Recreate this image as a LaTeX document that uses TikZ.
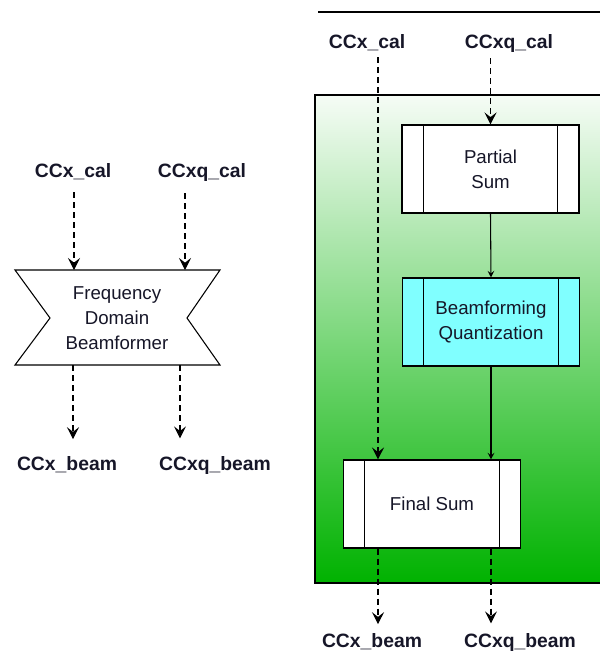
\documentclass[tikz,border=0pt]{standalone}
\usepackage{fontspec}
\setmainfont{Liberation Sans}
\usetikzlibrary{arrows.meta,calc}
\definecolor{cyanfill}{RGB}{128,255,255}
\definecolor{gtop}{RGB}{246,252,246}
\definecolor{gbot}{RGB}{0,178,0}
\definecolor{txt}{RGB}{22,22,40}
\begin{document}
\begin{tikzpicture}[x=0.75pt,y=-0.75pt,
 lab/.style={font=\fontsize{14.5}{17}\selectfont\bfseries, inner sep=0pt, text=txt},
 body/.style={font=\fontsize{14}{19}\selectfont, text=txt, align=center},
 proc/.style={draw, line width=0.8pt, fill=white, minimum width=132.75pt, minimum height=66pt,
   align=center, font=\fontsize{14}{19}\selectfont, text=txt, inner sep=0pt,
   path picture={\draw[line width=0.8pt]
     ([xshift=16pt]path picture bounding box.north west) -- ([xshift=16pt]path picture bounding box.south west)
     ([xshift=-16pt]path picture bounding box.north east) -- ([xshift=-16pt]path picture bounding box.south east);}},
 dasharrow/.style={dash pattern=on 4.5pt off 3pt, line width=0.8pt, -{Stealth[length=9pt,width=9pt,inset=3.5pt]}},
 solidarrow/.style={line width=0.8pt, -{Stealth[length=5pt,width=5pt,inset=2pt]}}]
\useasboundingbox (0,0) rectangle (600,672);
\clip (0,0) rectangle (600,672);

% ---------- left part ----------
\draw[line width=0.8pt, fill=white] (15,270) -- (220,270) -- (187,318) -- (220,365) -- (15,365) -- (50,318) -- cycle;
\node[body] (fdb) at (117,318) {Frequency\\Domain\\Beamformer};
\coordinate (fdbi1) at (74,270);
\coordinate (fdbi2) at (185,270);
\coordinate (fdbo1) at (73,365);
\coordinate (fdbo2) at (180,365);

\node[lab] (lxc) at (73,172) {CCx\_cal};
\node[lab] (lxq) at (202,172) {CCxq\_cal};
\node[lab] (lxb) at (67,465) {CCx\_beam};
\node[lab] (lqb) at (215,465) {CCxq\_beam};

\draw[dasharrow, shorten <=9pt] (lxc.south -| fdbi1) -- (fdbi1);
\draw[dasharrow, shorten <=9pt] (lxq.south -| fdbi2) -- (fdbi2);
\draw[dasharrow, shorten >=13pt] (fdbo1) -- (lxb.north -| fdbo1);
\draw[dasharrow, shorten >=13pt] (fdbo2) -- (lqb.north -| fdbo2);

% ---------- right part ----------
\draw[line width=0.8pt] (318,12) -- (610,12);
\draw[line width=0.8pt, top color=gtop, bottom color=gbot] (315,95) rectangle (620,583);

\node[proc] (ps) at (490.5,169) {Partial\\Sum};
\node[proc, fill=cyanfill] (bq) at (491,322) {Beamforming\\Quantization};
\node[proc] (fs) at (432,504) {Final Sum};
\coordinate (xline) at (378,0);

\node[lab] (rxc) at (367,43) {CCx\_cal};
\node[lab] (rxq) at (509,43) {CCxq\_cal};
\node[lab] (rxb) at (372,642) {CCx\_beam};
\node[lab] (rqb) at (520,642) {CCxq\_beam};

\draw[dasharrow, shorten <=4.5pt] (rxq.south -| ps.north) -- (ps.north);
\draw[dasharrow, shorten <=4.5pt] (rxc.south -| xline) -- (fs.north -| xline);
\draw[solidarrow] (ps.south) -- (bq.north);
\draw[solidarrow] (bq.south) -- (fs.north -| bq.south);
\draw[dasharrow, shorten >=7pt] (fs.south -| xline) -- (rxb.north -| xline);
\draw[dasharrow, shorten >=7pt] (fs.south -| bq.south) -- (rqb.north -| bq.south);
\end{tikzpicture}
\end{document}
